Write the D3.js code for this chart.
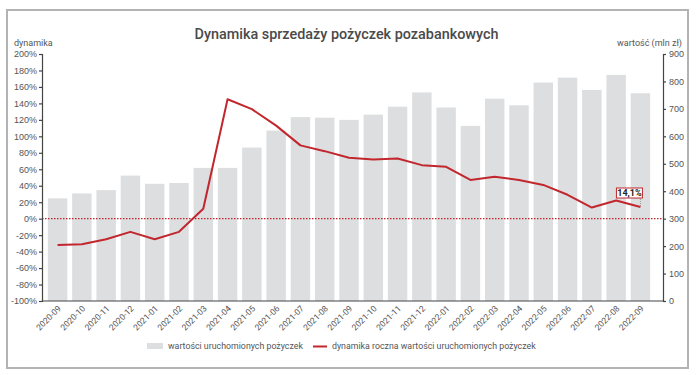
<!DOCTYPE html>
<html>
<head>
<meta charset="utf-8">
<script src="https://cdn.jsdelivr.net/npm/d3@7"></script>
<style>
  body { margin: 0; background: #fff; }
  svg { display: block; font-family: Roboto, "Noto Sans", sans-serif; }
</style>
</head>
<body>
<svg id="chart" width="696" height="375"></svg>
<script>
// months on the x axis
const months = ["2020-09","2020-10","2020-11","2020-12","2021-01","2021-02","2021-03","2021-04",
  "2021-05","2021-06","2021-07","2021-08","2021-09","2021-10","2021-11","2021-12","2022-01",
  "2022-02","2022-03","2022-04","2022-05","2022-06","2022-07","2022-08","2022-09"];
// wartość uruchomionych pożyczek (mln zł)
const values = [374, 392, 404, 457, 427, 430, 485, 485, 559, 621, 670, 668, 660, 679, 708,
  760, 705, 638, 737, 713, 796, 814, 769, 824, 757];
// dynamika roczna (%)
const growth = [-32, -31, -25, -16, -25, -16, 12, 145, 133, 113, 89, 82, 74, 72, 73, 65, 63,
  47, 51, 47, 41, 29, 13.5, 22, 14.1];
const leftTicks = d3.range(-100, 201, 20);
const rightTicks = d3.range(0, 901, 100);

const svg = d3.select("#chart");
const plotTop = 54, plotBottom = 301, plotLeft = 42, plotRight = 663;
const red = "#c1272d";

// frame
svg.append("rect").attr("x", 7).attr("y", 10).attr("width", 681).attr("height", 358)
  .attr("fill", "none").attr("stroke", "#b3b3b3").attr("stroke-width", 2);

const x = d3.scaleBand().domain(months).range([43, 655]).paddingInner(0.2).paddingOuter(0.2);
const yL = d3.scaleLinear().domain([-100, 200]).range([plotBottom, plotTop]);
const yR = d3.scaleLinear().domain([0, 900]).range([plotBottom, plotTop]);

// bars
svg.append("g").selectAll("rect").data(values).join("rect")
  .attr("x", (d, i) => x(months[i]))
  .attr("y", d => yR(d))
  .attr("width", x.bandwidth())
  .attr("height", d => yR(0) - yR(d))
  .attr("fill", "#dcdee0");

// zero line
svg.append("line").attr("x1", plotLeft).attr("x2", plotRight).attr("y1", yL(0)).attr("y2", yL(0))
  .attr("stroke", red).attr("stroke-width", 1.2).attr("stroke-dasharray", "1.5,1.5");

// growth line
const cx = i => x(months[i]) + x.bandwidth() / 2;
svg.append("path").datum(growth)
  .attr("fill", "none").attr("stroke", red).attr("stroke-width", 2)
  .attr("stroke-linejoin", "round")
  .attr("d", d3.line().x((d, i) => cx(i)).y(d => yL(d)));

// axes
const styleAxis = g => {
  g.selectAll(".domain, line").attr("stroke", "#444").attr("stroke-width", 1.2);
  g.selectAll("text").attr("fill", "#555").attr("font-size", 9);
};
svg.append("g").attr("transform", `translate(${plotLeft},0)`)
  .call(d3.axisLeft(yL).tickValues(leftTicks).tickSize(3).tickPadding(2).tickFormat(d => d + "%"))
  .call(styleAxis);
svg.append("g").attr("transform", `translate(${plotRight},0)`)
  .call(d3.axisRight(yR).tickValues(rightTicks).tickSize(3).tickPadding(3))
  .call(styleAxis);
svg.append("line").attr("x1", plotLeft).attr("x2", plotRight).attr("y1", plotBottom).attr("y2", plotBottom)
  .attr("stroke", "#444").attr("stroke-width", 1.2);

// x labels
svg.append("g").selectAll("text").data(months).join("text")
  .attr("transform", d => `translate(${x(d) + x.bandwidth() / 2 + 4},${plotBottom + 8}) rotate(-45)`)
  .attr("text-anchor", "end").attr("font-size", 8.5).attr("fill", "#555")
  .text(d => d);

// titles
svg.append("text").attr("x", 346.5).attr("y", 38.5).attr("text-anchor", "middle")
  .attr("font-size", 14.4).attr("font-weight", 500).attr("fill", "#4a4a4a")
  .text("Dynamika sprzedaży pożyczek pozabankowych");
svg.append("text").attr("x", 14).attr("y", 46).attr("font-size", 9).attr("fill", "#555").text("dynamika");
svg.append("text").attr("x", 682).attr("y", 46).attr("text-anchor", "end")
  .attr("font-size", 9).attr("fill", "#555").text("wartość (mln zł)");

// last value label
const li = growth.length - 1;
const lx = cx(li);
svg.append("line").attr("x1", lx).attr("x2", lx).attr("y1", 197).attr("y2", yL(growth[li]))
  .attr("stroke", "#888").attr("stroke-width", 0.8).attr("stroke-dasharray", "1,1");
svg.append("rect").attr("x", lx - 24).attr("y", 188).attr("width", 26).attr("height", 10)
  .attr("fill", "#fff").attr("stroke", red).attr("stroke-width", 1);
svg.append("text").attr("x", lx - 11).attr("y", 196).attr("text-anchor", "middle")
  .attr("font-size", 9).attr("font-weight", 700).attr("fill", "#222")
  .text(d3.format(".1f")(growth[li]).replace(".", ",") + "%");

// legend
const lg = svg.append("g").attr("font-size", 8.8).attr("fill", "#555");
lg.append("rect").attr("x", 147).attr("y", 343).attr("width", 16).attr("height", 6).attr("fill", "#dcdee0");
lg.append("text").attr("x", 168).attr("y", 349).text("wartości uruchomionych pożyczek");
lg.append("line").attr("x1", 313).attr("x2", 327).attr("y1", 346.5).attr("y2", 346.5)
  .attr("stroke", red).attr("stroke-width", 2);
lg.append("text").attr("x", 332).attr("y", 349).text("dynamika roczna wartości uruchomionych pożyczek");
</script>
</body>
</html>
